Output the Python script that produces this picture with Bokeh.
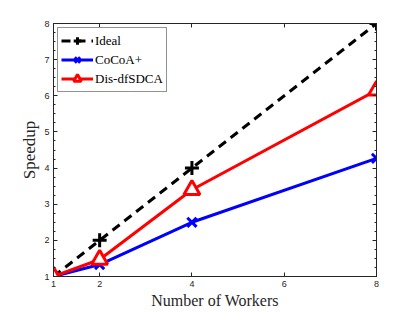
from bokeh.plotting import figure
from bokeh.models import Range1d, FixedTicker, LinearAxis, Legend, LegendItem
from bokeh.embed import file_html
from bokeh.resources import INLINE

workers = [1, 2, 4, 8]
ideal = [1, 2, 4, 8]
cocoa = [1.0, 1.33, 2.5, 4.27]
disdf = [1.0, 1.47, 3.4, 6.15]
x_ticks = [1, 2, 4, 6, 8]
y_ticks = [1, 2, 3, 4, 5, 6, 7, 8]
y_minor = [1 + 0.25 * i for i in range(29)]

p = figure(width=410, height=312, output_backend="svg", toolbar_location=None,
           x_range=Range1d(1, 8), y_range=Range1d(1, 8),
           min_border_left=53, min_border_right=34, min_border_top=23, min_border_bottom=36)
p.xgrid.visible = False
p.ygrid.visible = False
p.outline_line_color = "#262626"
p.outline_line_width = 1

SERIF = "Liberation Serif"
SANS = "Liberation Sans"

def style(ax, labels=True):
    ax.major_tick_in = 4
    ax.major_tick_out = 0
    ax.minor_tick_in = 2
    ax.minor_tick_out = 0
    ax.axis_line_color = "#262626"
    ax.major_tick_line_color = "#262626"
    ax.minor_tick_line_color = "#262626"
    ax.major_label_text_font = SANS
    ax.major_label_text_font_size = "9px"
    ax.major_label_text_color = "#262626"
    ax.axis_label_text_font = SERIF
    ax.axis_label_text_font_style = "normal"
    ax.axis_label_text_font_size = "16px"
    ax.axis_label_text_color = "#262626"
    if not labels:
        ax.major_label_text_color = None
        ax.major_label_standoff = 0

p.xaxis.ticker = FixedTicker(ticks=x_ticks)
p.yaxis.ticker = FixedTicker(ticks=y_ticks, minor_ticks=y_minor)
p.xaxis.axis_label = "Number of Workers"
p.yaxis.axis_label = "Speedup"
style(p.xaxis[0])
style(p.yaxis[0])
p.yaxis.axis_label_text_font_size = "17px"
p.xaxis.major_label_standoff = 4
p.yaxis.major_label_standoff = 4
p.xaxis.axis_label_standoff = 2
p.yaxis.axis_label_standoff = 2
p.xaxis.minor_tick_line_color = None

top = LinearAxis(ticker=FixedTicker(ticks=x_ticks))
right = LinearAxis(ticker=FixedTicker(ticks=y_ticks, minor_ticks=y_minor))
style(top, labels=False)
style(right, labels=False)
top.minor_tick_line_color = None
p.add_layout(top, "above")
p.add_layout(right, "right")

l1 = p.line(workers, ideal, line_color="black", line_width=3, line_dash="9 6")
m1 = p.scatter(workers, ideal, marker="cross", size=14, line_color="black", line_width=3)
l2 = p.line(workers, cocoa, line_color="blue", line_width=3)
m2 = p.scatter(workers, cocoa, marker="x", size=13, line_color="blue", line_width=3)
l3 = p.line(workers, disdf, line_color="red", line_width=3)
m3 = p.scatter(workers, disdf, marker="triangle", size=16, line_color="red",
               fill_color="white", line_width=3)

legend = Legend(items=[LegendItem(label="Ideal", renderers=[l1, m1]),
                       LegendItem(label="CoCoA+", renderers=[l2, m2]),
                       LegendItem(label="Dis-dfSDCA", renderers=[l3, m3])],
                location="top_left")
legend.label_text_font = SERIF
legend.label_text_font_size = "13px"
legend.label_text_color = "black"
legend.border_line_color = "#262626"
legend.border_line_width = 1
legend.margin = 4
legend.padding = 3
legend.spacing = 0
legend.glyph_width = 32
legend.glyph_height = 19
legend.label_height = 19
legend.label_standoff = 2
p.add_layout(legend)

open("out.html", "w").write(file_html(p, INLINE))
